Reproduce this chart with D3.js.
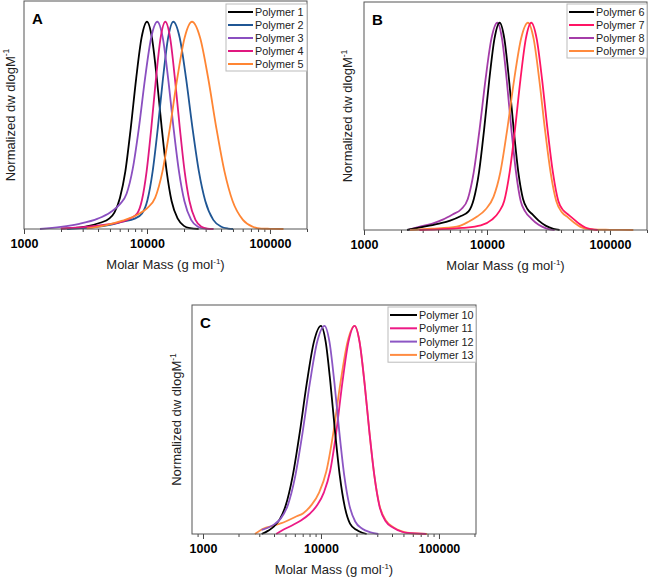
<!DOCTYPE html>
<html><head><meta charset="utf-8">
<script src="https://cdn.jsdelivr.net/npm/d3@7"></script>
<style>body{margin:0;background:#fff}svg{display:block}</style>
</head><body>
<svg id="c" width="648" height="578"></svg>
<script>
// ---------- data (log10 molar mass, normalized dw/dlogM) ----------
const majorTicks = [1000, 10000, 100000];
const panelLetters = ["A", "B", "C"];

const polymer1LogM = [3.30,3.50,3.62,3.692,3.736,3.78,3.824,3.868,3.912,3.956,4.0,4.04,4.08,4.12,4.16,4.20,4.25,4.30,4.35,4.42];
const polymer1H    = [0.002,0.012,0.03,0.05,0.08,0.15,0.278,0.487,0.726,0.923,1,0.923,0.726,0.487,0.278,0.135,0.05,0.015,0.004,0];
const polymer2LogM = [3.35,3.55,3.70,3.80,3.90,3.96,4.004,4.046,4.088,4.13,4.172,4.214,4.266,4.318,4.37,4.422,4.474,4.539,4.604,4.66,4.70];
const polymer2H    = [0,0.008,0.02,0.035,0.05,0.075,0.14,0.278,0.487,0.726,0.923,1,0.923,0.726,0.487,0.278,0.135,0.044,0.011,0.002,0];
const polymer3LogM = [3.13,3.30,3.45,3.60,3.70,3.78,3.834,3.884,3.934,3.984,4.034,4.084,4.128,4.172,4.216,4.26,4.304,4.359,4.414,4.47,4.54];
const polymer3H    = [0,0.01,0.025,0.05,0.08,0.12,0.17,0.29,0.487,0.726,0.923,1,0.923,0.726,0.487,0.278,0.135,0.044,0.011,0.002,0];
const polymer4LogM = [3.30,3.50,3.65,3.76,3.86,3.92,3.959,3.997,4.035,4.073,4.111,4.149,4.188,4.227,4.267,4.306,4.345,4.394,4.443,4.49,4.54];
const polymer4H    = [0.002,0.01,0.02,0.03,0.05,0.075,0.14,0.278,0.487,0.726,0.923,1,0.923,0.726,0.487,0.278,0.135,0.044,0.011,0.002,0];
const polymer5LogM = [3.51,3.67,3.80,3.94,4.0,4.066,4.126,4.186,4.246,4.306,4.366,4.432,4.498,4.564,4.63,4.696,4.78,4.86,4.93,5.0,5.11];
const polymer5H    = [0.003,0.019,0.04,0.075,0.10,0.15,0.278,0.487,0.726,0.923,1,0.923,0.726,0.487,0.278,0.135,0.044,0.011,0.002,0.001,0];

const polymer6LogM = [3.35,3.48,3.60,3.70,3.78,3.85,3.893,3.935,3.977,4.019,4.061,4.103,4.141,4.179,4.217,4.255,4.293,4.33,4.37,4.42,4.48,4.54,4.59];
const polymer6H    = [0,0.015,0.03,0.045,0.065,0.09,0.15,0.278,0.487,0.726,0.923,1,0.923,0.726,0.487,0.278,0.15,0.10,0.075,0.045,0.02,0.006,0];
const polymer7LogM = [3.45,3.60,3.80,3.95,4.04,4.10,4.14,4.184,4.228,4.272,4.316,4.36,4.404,4.448,4.492,4.536,4.58,4.62,4.66,4.70,4.75,4.80,4.85,4.90];
const polymer7H    = [0,0.003,0.01,0.022,0.05,0.09,0.14,0.278,0.487,0.726,0.923,1,0.923,0.726,0.487,0.278,0.14,0.095,0.075,0.055,0.03,0.012,0.004,0];
const polymer8LogM = [3.35,3.455,3.55,3.64,3.72,3.79,3.844,3.892,3.94,3.988,4.036,4.084,4.122,4.16,4.198,4.236,4.274,4.31,4.36,4.42,4.48,4.55];
const polymer8H    = [0,0.016,0.03,0.05,0.075,0.10,0.15,0.278,0.487,0.726,0.923,1,0.923,0.726,0.487,0.278,0.14,0.09,0.055,0.025,0.008,0];
const polymer9LogM = [3.374,3.55,3.754,3.85,3.92,3.99,4.053,4.109,4.165,4.221,4.277,4.333,4.379,4.425,4.471,4.517,4.563,4.61,4.66,4.71,4.76,4.84,5.00,5.19];
const polymer9H    = [0,0.006,0.016,0.04,0.065,0.10,0.16,0.28,0.487,0.726,0.923,1,0.923,0.726,0.487,0.278,0.14,0.085,0.06,0.035,0.015,0.003,0.001,0];

const polymer10LogM = [3.497,3.55,3.60,3.65,3.70,3.76,3.82,3.88,3.94,4.0,4.04,4.08,4.12,4.16,4.20,4.246,4.30,4.35,4.387];
const polymer10H    = [0,0.015,0.035,0.07,0.135,0.278,0.487,0.726,0.923,1,0.923,0.726,0.487,0.278,0.135,0.05,0.02,0.006,0];
const polymer11LogM = [3.62,3.68,3.75,3.83,3.90,3.97,4.025,4.077,4.129,4.181,4.233,4.285,4.327,4.369,4.411,4.453,4.495,4.55,4.613,4.68,4.73,4.89];
const polymer11H    = [0,0.02,0.04,0.065,0.095,0.14,0.2,0.30,0.487,0.726,0.923,1,0.923,0.726,0.487,0.278,0.135,0.06,0.03,0.012,0.005,0];
const polymer12LogM = [3.497,3.55,3.60,3.66,3.72,3.782,3.844,3.906,3.968,4.03,4.072,4.114,4.156,4.198,4.24,4.29,4.35,4.42,4.486];
const polymer12H    = [0.02,0.03,0.045,0.075,0.14,0.278,0.487,0.726,0.923,1,0.923,0.726,0.487,0.278,0.14,0.06,0.025,0.008,0];
const polymer13LogM = [3.44,3.51,3.60,3.70,3.794,3.85,3.92,3.985,4.045,4.105,4.165,4.225,4.285,4.327,4.369,4.411,4.453,4.495,4.55,4.613,4.68,4.73,4.90];
const polymer13H    = [0,0.025,0.04,0.06,0.085,0.10,0.14,0.2,0.30,0.487,0.726,0.923,1,0.923,0.726,0.487,0.278,0.14,0.065,0.033,0.014,0.006,0];

const namesA = ["Polymer 1","Polymer 2","Polymer 3","Polymer 4","Polymer 5"];
const namesB = ["Polymer 6","Polymer 7","Polymer 8","Polymer 9"];
const namesC = ["Polymer 10","Polymer 11","Polymer 12","Polymer 13"];
const colorsA = ["#000000","#1f5694","#8a4fc0","#e0187f","#ff8533"];
const colorsB = ["#000000","#ff1464","#a43ca8","#ff8a3d"];
const colorsC = ["#000000","#ec1a86","#8c56c4","#ff8c42"];

function series(names, colors, logs, hs) {
  return names.map((n, i) => ({name: n, color: colors[i],
    pts: logs[i].map((v, j) => [Math.pow(10, v), hs[i][j]])}));
}
const seriesA = series(namesA, colorsA,
  [polymer1LogM, polymer2LogM, polymer3LogM, polymer4LogM, polymer5LogM],
  [polymer1H, polymer2H, polymer3H, polymer4H, polymer5H]);
const seriesB = series(namesB, colorsB,
  [polymer6LogM, polymer7LogM, polymer8LogM, polymer9LogM],
  [polymer6H, polymer7H, polymer8H, polymer9H]);
const seriesC = series(namesC, colorsC,
  [polymer10LogM, polymer11LogM, polymer12LogM, polymer13LogM],
  [polymer10H, polymer11H, polymer12H, polymer13H]);

// ---------- layout ----------
const panels = [
  {letter: panelLetters[0], s: seriesA, order: [0,1,2,3,4], dom: [1000, 200000], l: 24, r: 307, t: 1, b: 229,
   tickY: 248, titleY: 269, yTitleX: 11.5, legend: {x: 226, y: 4, w: 81, rowH: 13, lineW: 25}},
  {letter: panelLetters[1], s: seriesB, order: [2,0,3,1], dom: [1000, 200000], l: 364, r: 647, t: 2, b: 230,
   tickY: 249, titleY: 270, yTitleX: 349, legend: {x: 567, y: 4, w: 80, rowH: 13, lineW: 25}},
  {letter: panelLetters[2], s: seriesC, order: [3,1,0,2], dom: [807, 206000], l: 192, r: 476, t: 305, b: 534,
   tickY: 553, titleY: 574, yTitleX: 178, legend: {x: 388, y: 307, w: 88, rowH: 13.3, lineW: 27}}
];

const svg = d3.select("#c");
const FONT = "'Liberation Sans', Arial, sans-serif";

panels.forEach(p => {
  const g = svg.append("g");
  const x = d3.scaleLog().domain(p.dom).range([p.l, p.r]);
  const y = d3.scaleLinear().domain([0, 1.1]).range([p.b, p.t]);

  // minor ticks
  const minors = x.ticks(30).filter(v => majorTicks.indexOf(v) < 0);
  g.append("g").attr("transform", `translate(0,${p.b})`)
    .call(d3.axisBottom(x).tickValues(minors).tickSize(3).tickFormat(""))
    .call(a => a.select(".domain").remove())
    .call(a => a.selectAll("line").attr("stroke", "#444"));
  g.append("g").attr("transform", `translate(0,${p.b})`)
    .call(d3.axisBottom(x).tickValues(majorTicks).tickSize(5).tickFormat(d3.format("d")))
    .call(a => a.select(".domain").remove())
    .call(a => a.selectAll("line").attr("stroke", "#444"))
    .call(a => a.selectAll("text").attr("y", null).attr("dy", null)
      .attr("transform", `translate(0,${p.tickY - p.b})`)
      .attr("font-family", FONT).attr("font-size", 12.5).attr("font-weight", "bold").attr("fill", "#000"));

  // curves
  const line = d3.line().x(d => x(d[0])).y(d => y(d[1])).curve(d3.curveMonotoneX);
  p.order.forEach(i => {
    g.append("path").datum(p.s[i].pts).attr("d", line)
      .attr("fill", "none").attr("stroke", p.s[i].color).attr("stroke-width", 1.8);
  });

  // frame
  g.append("rect").attr("x", p.l).attr("y", p.t).attr("width", p.r - p.l).attr("height", p.b - p.t)
    .attr("fill", "none").attr("stroke", "#555").attr("stroke-width", 1);

  // letter
  g.append("text").attr("x", p.l + 8).attr("y", p.t + 23).text(p.letter)
    .attr("font-family", FONT).attr("font-weight", "bold").attr("font-size", 15);

  // x title
  const xt = g.append("text").attr("x", (p.l + p.r) / 2).attr("y", p.titleY).attr("text-anchor", "middle")
    .attr("font-family", FONT).attr("font-size", 13).attr("fill", "#222");
  xt.append("tspan").text("Molar Mass (g mol");
  xt.append("tspan").text("-1").attr("font-size", 8).attr("dy", -5);
  xt.append("tspan").text(")").attr("dy", 5);

  // y title
  const yt = g.append("text").attr("transform", `translate(${p.yTitleX},${(p.t + p.b) / 2}) rotate(-90)`)
    .attr("text-anchor", "middle").attr("dominant-baseline", "middle")
    .attr("font-family", FONT).attr("font-size", 13).attr("fill", "#222");
  yt.append("tspan").text("Normalized dw dlogM");
  yt.append("tspan").text("-1").attr("font-size", 8.5).attr("dy", -4.5);

  // legend
  const L = p.legend;
  const n = p.s.length;
  g.append("rect").attr("x", L.x).attr("y", L.y).attr("width", L.w).attr("height", n * L.rowH + 2)
    .attr("fill", "#fff").attr("stroke", "#bbb").attr("stroke-width", 1);
  p.s.forEach((s, i) => {
    const cy = L.y + 8 + i * L.rowH;
    g.append("line").attr("x1", L.x + 2).attr("x2", L.x + 2 + L.lineW).attr("y1", cy).attr("y2", cy)
      .attr("stroke", s.color).attr("stroke-width", 2);
    g.append("text").attr("x", L.x + L.lineW + 4).attr("y", cy + 4).text(s.name)
      .attr("font-family", FONT).attr("font-size", 10.8).attr("fill", "#222");
  });
});
</script>
</body></html>
